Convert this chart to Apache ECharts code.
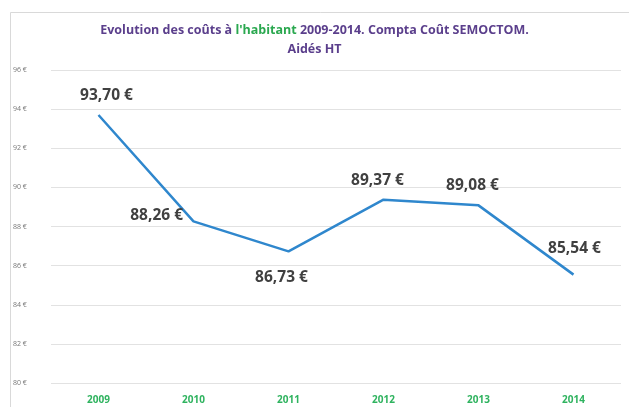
<!DOCTYPE html>
<html style="height: 100%;">
<head>
<meta charset="utf-8">
<title>Evolution des coûts à l'habitant</title>
<script type="text/javascript" src="https://cdn.jsdelivr.net/npm/echarts@6/dist/echarts.min.js"></script>
</head>
<body style="height: 100%; margin: 0; background: #fff">
<div id="container" style="width: 629px; height: 407px"></div>
<script type="text/javascript">
var years = ['2009', '2010', '2011', '2012', '2013', '2014'];
var couts = [93.70, 88.26, 86.73, 89.37, 89.08, 85.54];
// placement des étiquettes
var labelPos = ['top', 'left', 'bottom', 'top', 'top', 'top'];
var labelOff = [[8, 0], [0, -6], [-7, 0], [-6, 0], [-6, 0], [1, -7]];

var myChart = echarts.init(document.getElementById('container'));

function euro(v) {
    return v.toFixed(2).replace('.', ',') + ' €';
}

var points = couts.map(function (v, i) {
    var p = labelPos[i];
    return {
        value: v,
        label: {
            position: p,
            distance: p === 'left' ? 10 : (p === 'bottom' ? 18 : 11),
            offset: labelOff[i]
        }
    };
});

var option = {
    animation: false,
    backgroundColor: '#fff',
    title: {
        text: '{p|Evolution des coûts à }{g|l\'habitant}{p| 2009-2014. Compta Coût SEMOCTOM.}\n{p|Aidés HT}',
        left: 'center',
        top: 16,
        textStyle: {
            lineHeight: 19,
            rich: {
                p: { color: '#5b3f8c', fontSize: 12.5, fontWeight: 'bold', fontFamily: 'Open Sans', lineHeight: 19 },
                g: { color: '#2aa84f', fontSize: 12.5, fontWeight: 'bold', fontFamily: 'Open Sans', lineHeight: 19 }
            }
        }
    },
    graphic: [{
        type: 'rect',
        shape: { x: 10.5, y: 12.5, width: 640, height: 420 },
        style: { fill: 'none', stroke: '#d9d9d9', lineWidth: 1 },
        silent: true
    }],
    grid: { left: 51, right: 8, top: 70, bottom: 24 },
    xAxis: {
        type: 'category',
        data: years,
        boundaryGap: true,
        axisLine: { show: false },
        axisTick: { show: false },
        axisLabel: {
            color: '#2fb35f', fontSize: 10, fontWeight: 'bold',
            fontFamily: 'Open Sans', margin: 12
        }
    },
    yAxis: {
        type: 'value',
        min: 80, max: 96, interval: 2,
        axisLine: { show: false },
        axisTick: { show: false },
        axisLabel: {
            color: '#777', fontSize: 7, fontFamily: 'Open Sans',
            margin: 38, align: 'left',
            formatter: function (v) { return v + ' €'; }
        },
        splitLine: { lineStyle: { color: '#e2e2e2', width: 1 } }
    },
    series: [{
        type: 'line',
        data: points,
        symbol: 'circle',
        symbolSize: 1,
        showSymbol: true,
        itemStyle: { color: 'rgba(0,0,0,0)' },
        lineStyle: { color: '#2f87cd', width: 2.5 },
        label: {
            show: true,
            color: '#404040',
            fontSize: 15.5,
            fontWeight: 'bold',
            fontFamily: 'Open Sans',
            formatter: function (p) { return euro(p.value); }
        }
    }]
};
myChart.setOption(option);
</script>
</body>
</html>
